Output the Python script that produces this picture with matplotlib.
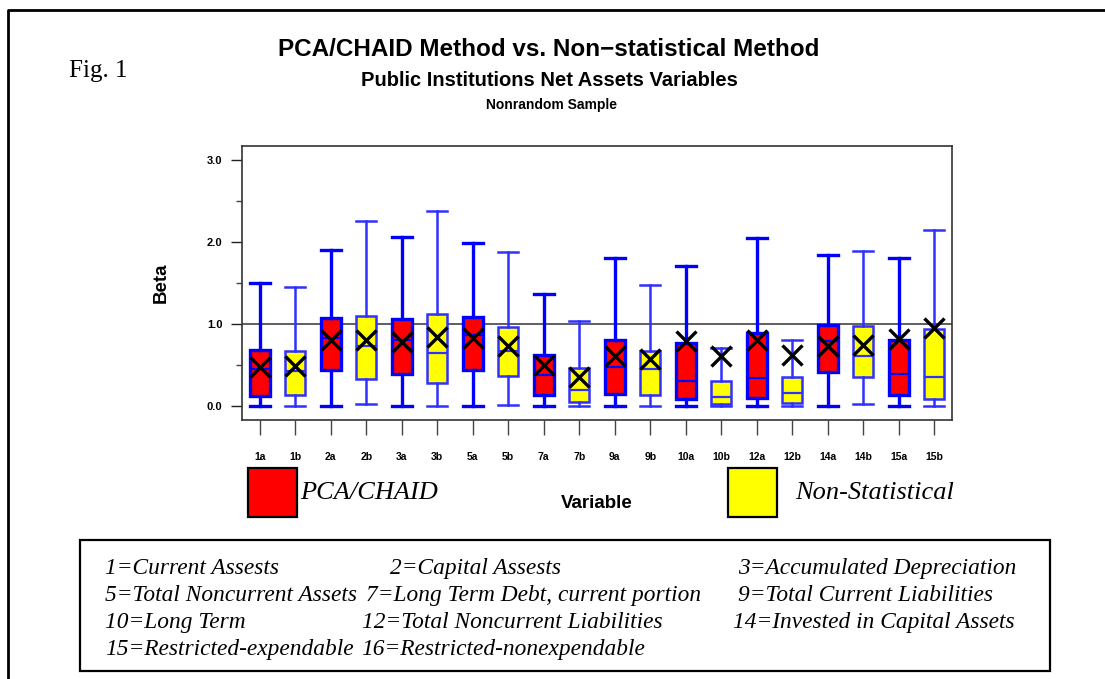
import matplotlib
matplotlib.use("Agg")
import matplotlib.pyplot as plt
from matplotlib.patches import Rectangle
from matplotlib.lines import Line2D

# box plot values (Beta)
labels = ['1a', '1b', '2a', '2b', '3a', '3b', '5a', '5b', '7a', '7b',
          '9a', '9b', '10a', '10b', '12a', '12b', '14a', '14b', '15a', '15b']
whis_hi = [1.50, 1.455, 1.90, 2.256, 2.06, 2.38, 1.99, 1.88, 1.366, 1.04,
           1.80, 1.47, 1.71, 0.707, 2.05, 0.80, 1.845, 1.886, 1.80, 2.15]
q3 = [0.68, 0.675, 1.07, 1.10, 1.057, 1.126, 1.085, 0.967, 0.626, 0.467,
      0.81, 0.675, 0.77, 0.305, 0.89, 0.36, 0.99, 0.976, 0.81, 0.935]
med = [0.455, 0.43, 0.83, 0.73, 0.80, 0.65, 0.866, 0.67, 0.38, 0.19,
       0.48, 0.447, 0.30, 0.11, 0.34, 0.155, 0.79, 0.61, 0.386, 0.357]
q1 = [0.12, 0.134, 0.435, 0.325, 0.386, 0.285, 0.435, 0.366, 0.138, 0.053,
      0.146, 0.134, 0.085, 0.03, 0.10, 0.037, 0.42, 0.35, 0.138, 0.09]
whis_lo = [0.0, 0.0, 0.0, 0.024, 0.0, 0.0, 0.0, 0.016, 0.0, 0.0,
           0.0, 0.0, 0.0, 0.0, 0.0, 0.0, 0.0, 0.02, 0.0, 0.0]
means = [0.47, 0.49, 0.80, 0.80, 0.78, 0.845, 0.83, 0.73, 0.50, 0.35,
         0.61, 0.57, 0.79, 0.61, 0.80, 0.62, 0.73, 0.75, 0.82, 0.95]

legend_text = [
    ("1=Current Assests", 105, 574), ("2=Capital Assests", 390, 574),
    ("3=Accumulated Depreciation", 738, 574),
    ("5=Total Noncurrent Assets", 105, 601), ("7=Long Term Debt, current portion", 366, 601),
    ("9=Total Current Liabilities", 738, 601),
    ("10=Long Term", 105, 628), ("12=Total Noncurrent Liabilities", 362, 628),
    ("14=Invested in Capital Assets", 733, 628),
    ("15=Restricted-expendable", 105, 655), ("16=Restricted-nonexpendable", 361, 655),
]

W, H = 1105, 679
def fx(x):
    return x / W
def fy(y):
    return 1 - y / H

SANS = 'Liberation Sans'
SERIF = 'Liberation Serif'

fig = plt.figure(figsize=(W / 100, H / 100), dpi=100)
ax = fig.add_axes([fx(242), fy(420), fx(952) - fx(242), fy(146) - fy(420)])

stats = []
for i in range(len(labels)):
    stats.append(dict(label=labels[i], whislo=whis_lo[i], q1=q1[i], med=med[i],
                      q3=q3[i], whishi=whis_hi[i], mean=means[i], fliers=[]))

pos = list(range(1, len(labels) + 1))
for grp, face, edge, lw in [(0, 'red', '#0000ff', 2.4), (1, 'yellow', '#3030ff', 1.8)]:
    idx = [i for i in range(len(labels)) if i % 2 == grp]
    ax.bxp([stats[i] for i in idx], positions=[pos[i] for i in idx], widths=0.56,
           patch_artist=True, showmeans=True, showfliers=False,
           boxprops=dict(facecolor=face, edgecolor=edge, linewidth=lw),
           whiskerprops=dict(color=edge, linewidth=lw),
           capprops=dict(color=edge, linewidth=lw),
           medianprops=dict(color=edge, linewidth=1.6),
           meanprops=dict(marker='x', markersize=15, markeredgecolor='black',
                          markeredgewidth=2.4),
           capwidths=0.56, zorder=3)

ax.axhline(1.0, color='#333333', linewidth=1.1, zorder=1)

ax.set_xlim(0.5, 20.5)
ax.set_ylim(-0.17, 3.17)
ax.set_xticks(pos)
ax.set_xticklabels(labels, fontfamily=SANS, fontweight='bold', fontsize=7.5)
ax.set_yticks([0, 1, 2, 3])
ax.set_yticklabels(['0.0', '1.0', '2.0', '3.0'], fontfamily=SANS, fontweight='bold', fontsize=8)
ax.set_yticks([0.5, 1.5, 2.5], minor=True)
ax.tick_params(axis='x', direction='out', length=11, width=1, color='#444444', pad=12)
ax.tick_params(axis='y', which='major', direction='out', length=8, width=1, color='#222222', pad=6)
ax.tick_params(axis='y', which='minor', direction='out', length=4.3, width=1, color='#444444')
for s in ax.spines.values():
    s.set_color('#333333')
    s.set_linewidth(1.2)

# titles
fig.text(fx(549), fy(49), 'PCA/CHAID Method vs. Non\u2212statistical Method', ha='center', va='center',
         fontfamily=SANS, fontweight='bold', fontsize=17.5)
fig.text(fx(549), fy(81), 'Public Institutions Net Assets Variables', ha='center', va='center',
         fontfamily=SANS, fontweight='bold', fontsize=14.5)
fig.text(fx(552), fy(105), 'Nonrandom Sample', ha='center', va='center',
         fontfamily=SANS, fontweight='bold', fontsize=10)
fig.text(fx(98), fy(71), 'Fig. 1', ha='center', va='center', fontfamily=SERIF, fontsize=18)

fig.text(fx(161), fy(283), 'Beta', ha='center', va='center', rotation=90,
         fontfamily=SANS, fontweight='bold', fontsize=13.5)
fig.text(fx(597), fy(503), 'Variable', ha='center', va='center',
         fontfamily=SANS, fontweight='bold', fontsize=13.5)

# group keys
fig.patches.append(Rectangle((fx(248), fy(517)), fx(297) - fx(248), fy(468) - fy(517),
                             transform=fig.transFigure, facecolor='red', edgecolor='black',
                             linewidth=1.6))
fig.patches.append(Rectangle((fx(728), fy(517)), fx(777) - fx(728), fy(468) - fy(517),
                             transform=fig.transFigure, facecolor='yellow', edgecolor='black',
                             linewidth=1.6))
fig.text(fx(300), fy(493), 'PCA/CHAID', ha='left', va='center', fontfamily=SERIF,
         style='italic', fontsize=19)
fig.text(fx(795), fy(493), 'Non-Statistical', ha='left', va='center', fontfamily=SERIF,
         style='italic', fontsize=19)

# variable key box
fig.patches.append(Rectangle((fx(80), fy(671)), fx(1050) - fx(80), fy(540) - fy(671),
                             transform=fig.transFigure, facecolor='none', edgecolor='black',
                             linewidth=1.6))
for txt, x, y in legend_text:
    fig.text(fx(x), fy(y), txt, ha='left', va='baseline', fontfamily=SERIF,
             style='italic', fontsize=16.8)

# page frame
fig.lines.append(Line2D([fx(7.5), fx(7.5), 1.0], [0.0, fy(10), fy(10)],
                        transform=fig.transFigure, color='black', linewidth=2))

fig.savefig('out.png', dpi=100)
